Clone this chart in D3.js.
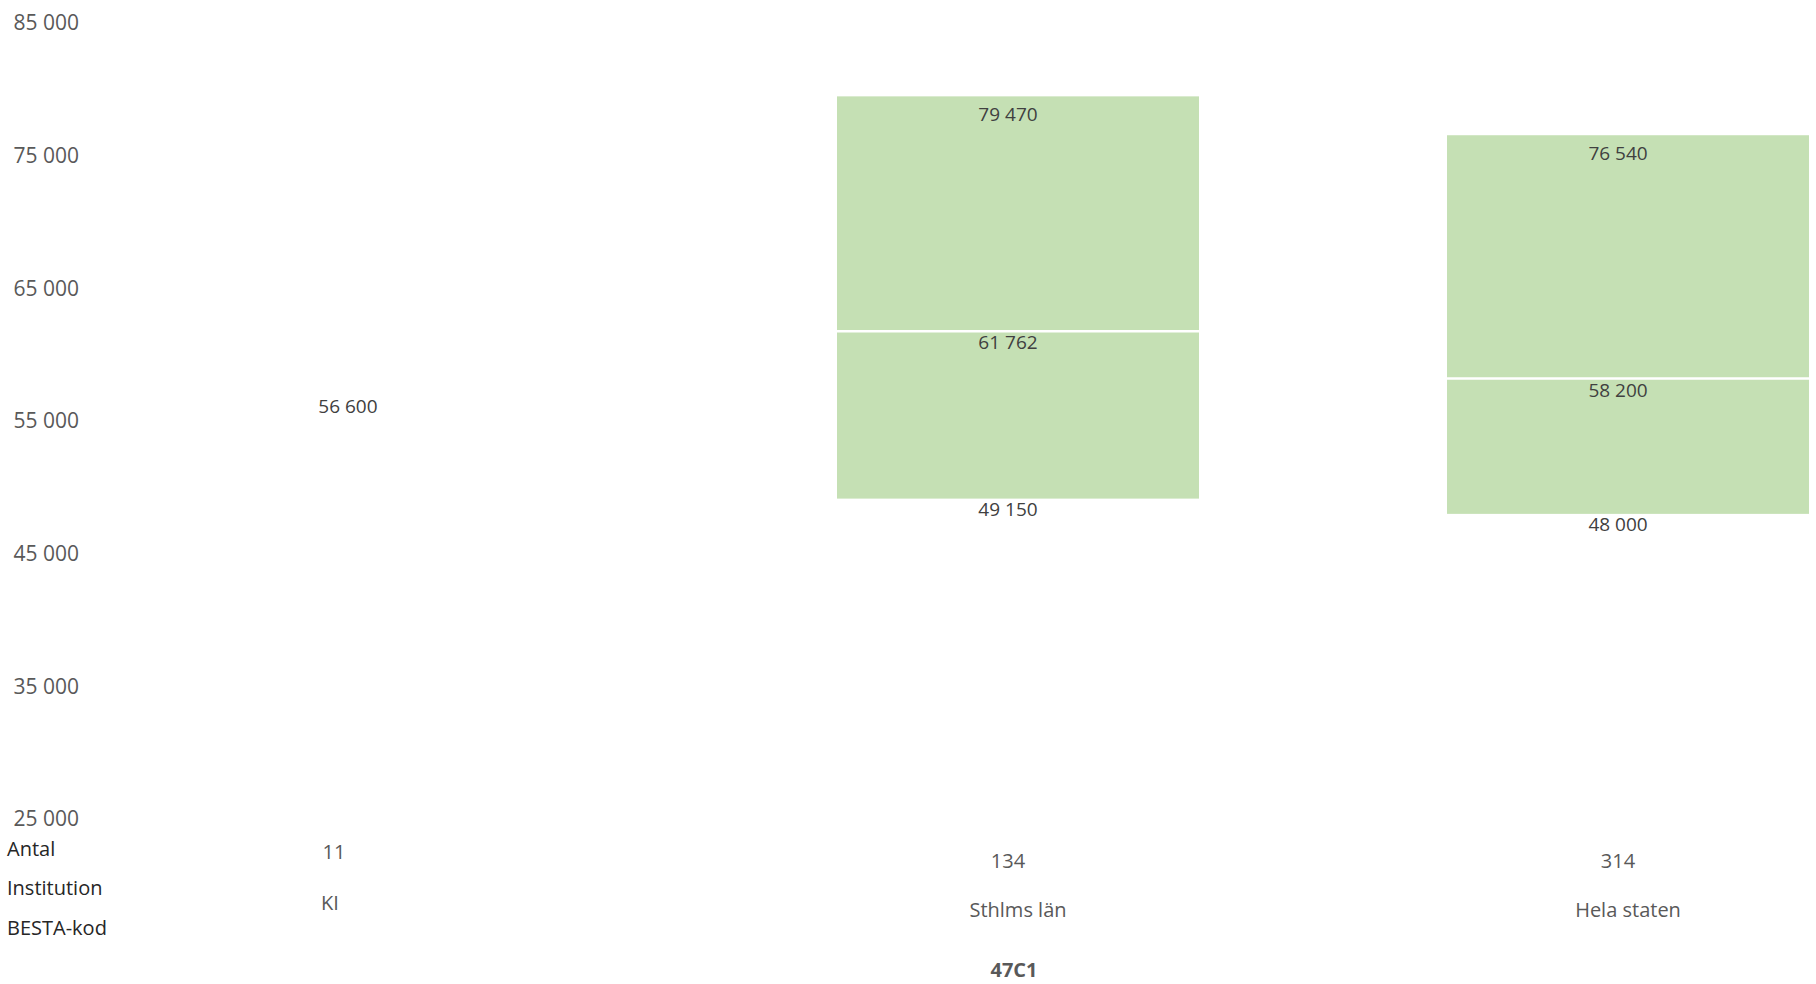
<!DOCTYPE html>
<html>
<head>
<meta charset="utf-8">
<script src="https://cdn.jsdelivr.net/npm/d3@7"></script>
<style>
  html, body { margin: 0; padding: 0; background: #ffffff; }
  svg { display: block; font-family: "Open Sans", "Noto Sans", sans-serif; }
</style>
</head>
<body>
<svg id="chart" width="1816" height="984"></svg>
<script>
// ---- Data ----
const categories = ["KI", "Sthlms län", "Hela staten"];
const antal = [11, 134, 314];
const minValues = [null, 49150, 48000];
const medianValues = [56600, 61762, 58200];
const maxValues = [null, 79470, 76540];
const yTicks = [25000, 35000, 45000, 55000, 65000, 75000, 85000];
const rowLabels = ["Antal", "Institution", "BESTA-kod"];
const bestaKod = "47C1";

// ---- Setup ----
const svg = d3.select("#chart");

const locale = d3.formatLocale({ decimal: ",", thousands: "\u00a0", grouping: [3], currency: ["", " kr"] });
const fmt = locale.format(",d");

const y = d3.scaleLinear().domain([25000, 85000]).range([819, 23]);
const x = d3.scaleBand().domain(categories).range([227, 1809]).paddingInner(0.4066).paddingOuter(0);

const rows = categories.map((c, i) => ({
  cat: c, antal: antal[i], min: minValues[i], median: medianValues[i], max: maxValues[i]
}));

// ---- Y axis (labels only) ----
const yAxis = d3.axisLeft(y).tickValues(yTicks).tickSize(0).tickPadding(0).tickFormat(fmt);
const gy = svg.append("g").attr("transform", "translate(79,0)").call(yAxis);
gy.select(".domain").remove();
gy.selectAll("text")
  .attr("fill", "#595959")
  .style("font-size", "21px")
  .style("font-family", "'Open Sans', sans-serif");

// ---- Boxes (min-max) ----
const boxRows = rows.filter(d => d.min != null && d.max != null);
svg.append("g").selectAll("rect")
  .data(boxRows)
  .join("rect")
  .attr("x", d => x(d.cat))
  .attr("width", x.bandwidth())
  .attr("y", d => y(d.max))
  .attr("height", d => y(d.min) - y(d.max))
  .attr("fill", "#C5E0B4");

// median separator lines
svg.append("g").selectAll("line")
  .data(boxRows)
  .join("line")
  .attr("x1", d => x(d.cat))
  .attr("x2", d => x(d.cat) + x.bandwidth())
  .attr("y1", d => y(d.median))
  .attr("y2", d => y(d.median))
  .attr("stroke", "#ffffff")
  .attr("stroke-width", 2.5);

// ---- Value labels ----
const center = d => x(d.cat) + x.bandwidth() / 2;
const cx = d => center(d) - 10;
const lbl = svg.append("g")
  .attr("fill", "#404040")
  .style("font-size", "19px")
  .attr("text-anchor", "middle")
  .attr("dominant-baseline", "central");

lbl.selectAll("text.max")
  .data(boxRows).join("text").attr("class", "max")
  .attr("x", cx).attr("y", d => y(d.max) + 18)
  .text(d => fmt(d.max));

lbl.selectAll("text.med")
  .data(rows).join("text").attr("class", "med")
  .attr("x", d => d.min == null ? center(d) - 60 : cx(d))
  .attr("y", d => y(d.median) + (d.min == null ? 6 : 11))
  .text(d => fmt(d.median));

lbl.selectAll("text.min")
  .data(boxRows).join("text").attr("class", "min")
  .attr("x", cx).attr("y", d => y(d.min) + 10)
  .text(d => fmt(d.min));

// ---- Bottom table ----
const rowLabelY = [848, 887, 927];
svg.append("g")
  .selectAll("text")
  .data(rowLabels)
  .join("text")
  .attr("x", 7)
  .attr("y", (d, i) => rowLabelY[i])
  .attr("dominant-baseline", "central")
  .attr("fill", "#262626")
  .style("font-size", "20px")
  .text(d => d);

const tbl = svg.append("g")
  .attr("fill", "#595959")
  .attr("text-anchor", "middle")
  .attr("dominant-baseline", "central")
  .style("font-size", "20px");

tbl.selectAll("text.antal")
  .data(rows).join("text").attr("class", "antal")
  .attr("x", d => center(d) - (d.min == null ? 74 : 10))
  .attr("y", d => d.min == null ? 851 : 860)
  .text(d => d.antal);

tbl.selectAll("text.inst")
  .data(rows).join("text").attr("class", "inst")
  .attr("x", d => center(d) - (d.min == null ? 78 : 0))
  .attr("y", d => d.min == null ? 902 : 909)
  .text(d => d.cat);

svg.append("text")
  .attr("x", center({ cat: categories[1] }) - 4)
  .attr("y", 969)
  .attr("text-anchor", "middle")
  .attr("dominant-baseline", "central")
  .attr("fill", "#595959")
  .style("font-size", "20px")
  .style("font-weight", "bold")
  .text(bestaKod);
</script>
</body>
</html>
